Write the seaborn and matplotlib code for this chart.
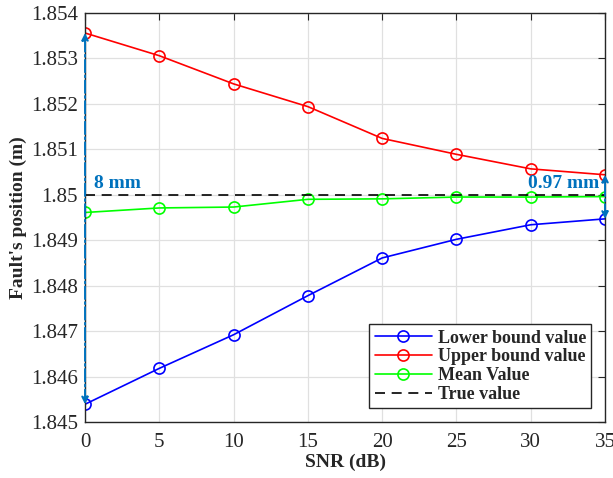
import numpy as np
import pandas as pd
import matplotlib
matplotlib.use("Agg")
import matplotlib.pyplot as plt
import seaborn as sns

snr = [0, 5, 10, 15, 20, 25, 30, 35]
lower = [1.84539, 1.84618, 1.84692, 1.84778, 1.84861, 1.84902, 1.84934, 1.84947]
upper = [1.85356, 1.85306, 1.85244, 1.85194, 1.85124, 1.85089, 1.85057, 1.85044]
mean = [1.84961, 1.84971, 1.84973, 1.84990, 1.84991, 1.84995, 1.84995, 1.84996]
true_val = 1.85
yticks = [1.845, 1.846, 1.847, 1.848, 1.849, 1.85, 1.851, 1.852, 1.853, 1.854]
ytick_labels = ["1.845", "1.846", "1.847", "1.848", "1.849", "1.85", "1.851", "1.852", "1.853", "1.854"]

sns.set_style("whitegrid")
plt.rcParams['font.family'] = ['Liberation Serif', 'DejaVu Serif']

fig = plt.figure(figsize=(6.13, 4.78), dpi=100)
ax = fig.add_axes([0.1387, 0.1172, 0.8483, 0.8556])

df = pd.DataFrame({"snr": snr, "Lower bound value": lower,
                   "Upper bound value": upper, "Mean Value": mean})
series = [("Lower bound value", "#0000ff"), ("Upper bound value", "#ff0000"), ("Mean Value", "#00ff00")]
for name, col in series:
    sns.lineplot(data=df, x="snr", y=name, ax=ax, color=col, marker="o",
                 markersize=8, markerfacecolor="none", markeredgecolor=col,
                 markeredgewidth=1.2, linewidth=1.2, label=name)
ax.axhline(true_val, color="black", linestyle=(0, (6, 4)), linewidth=1.2, label="True value")

# spread annotations
ann = "#0072BD"
ax.annotate("", xy=(0, upper[0]), xytext=(0, lower[0]),
            arrowprops=dict(arrowstyle="<|-|>", color=ann, lw=1.4, linestyle="-.",
                            shrinkA=0, shrinkB=0, mutation_scale=10))
ax.annotate("", xy=(35, upper[-1]), xytext=(35, lower[-1]),
            arrowprops=dict(arrowstyle="<|-|>", color=ann, lw=1.4, linestyle="-.",
                            shrinkA=0, shrinkB=0, mutation_scale=10))
ax.text(0.6, 1.85006, "8 mm", color=ann, fontsize=14, fontweight="bold", ha="left", va="bottom")
ax.text(34.6, 1.85006, "0.97 mm", color=ann, fontsize=14, fontweight="bold", ha="right", va="bottom")

ax.set_xlim(0, 35)
ax.set_ylim(1.845, 1.854)
ax.set_xticks(snr)
ax.set_yticks(yticks)
ax.set_yticklabels(ytick_labels)
ax.tick_params(direction="in", length=5, labelsize=15, colors="#262626", top=True, right=True)
ax.tick_params(axis="x", pad=8)
ax.tick_params(axis="y", pad=5)
ax.grid(True, color="#e0e0e0", linewidth=0.9)
for s in ax.spines.values():
    s.set_color("#262626")
    s.set_linewidth(1.0)
ax.set_xlabel("SNR (dB)", fontsize=14, fontweight="bold", labelpad=1)
ax.set_ylabel("Fault's position (m)", fontsize=14, fontweight="bold", labelpad=3)

leg = ax.legend(loc="lower right", prop={"weight": "bold", "size": 13},
                frameon=True, fancybox=False, framealpha=1, edgecolor="#262626",
                borderpad=0.3, labelspacing=0.1, handlelength=3.2, handletextpad=0.3,
                borderaxespad=0.75)
leg.get_frame().set_linewidth(1.0)

fig.savefig("out.png", dpi=100)
